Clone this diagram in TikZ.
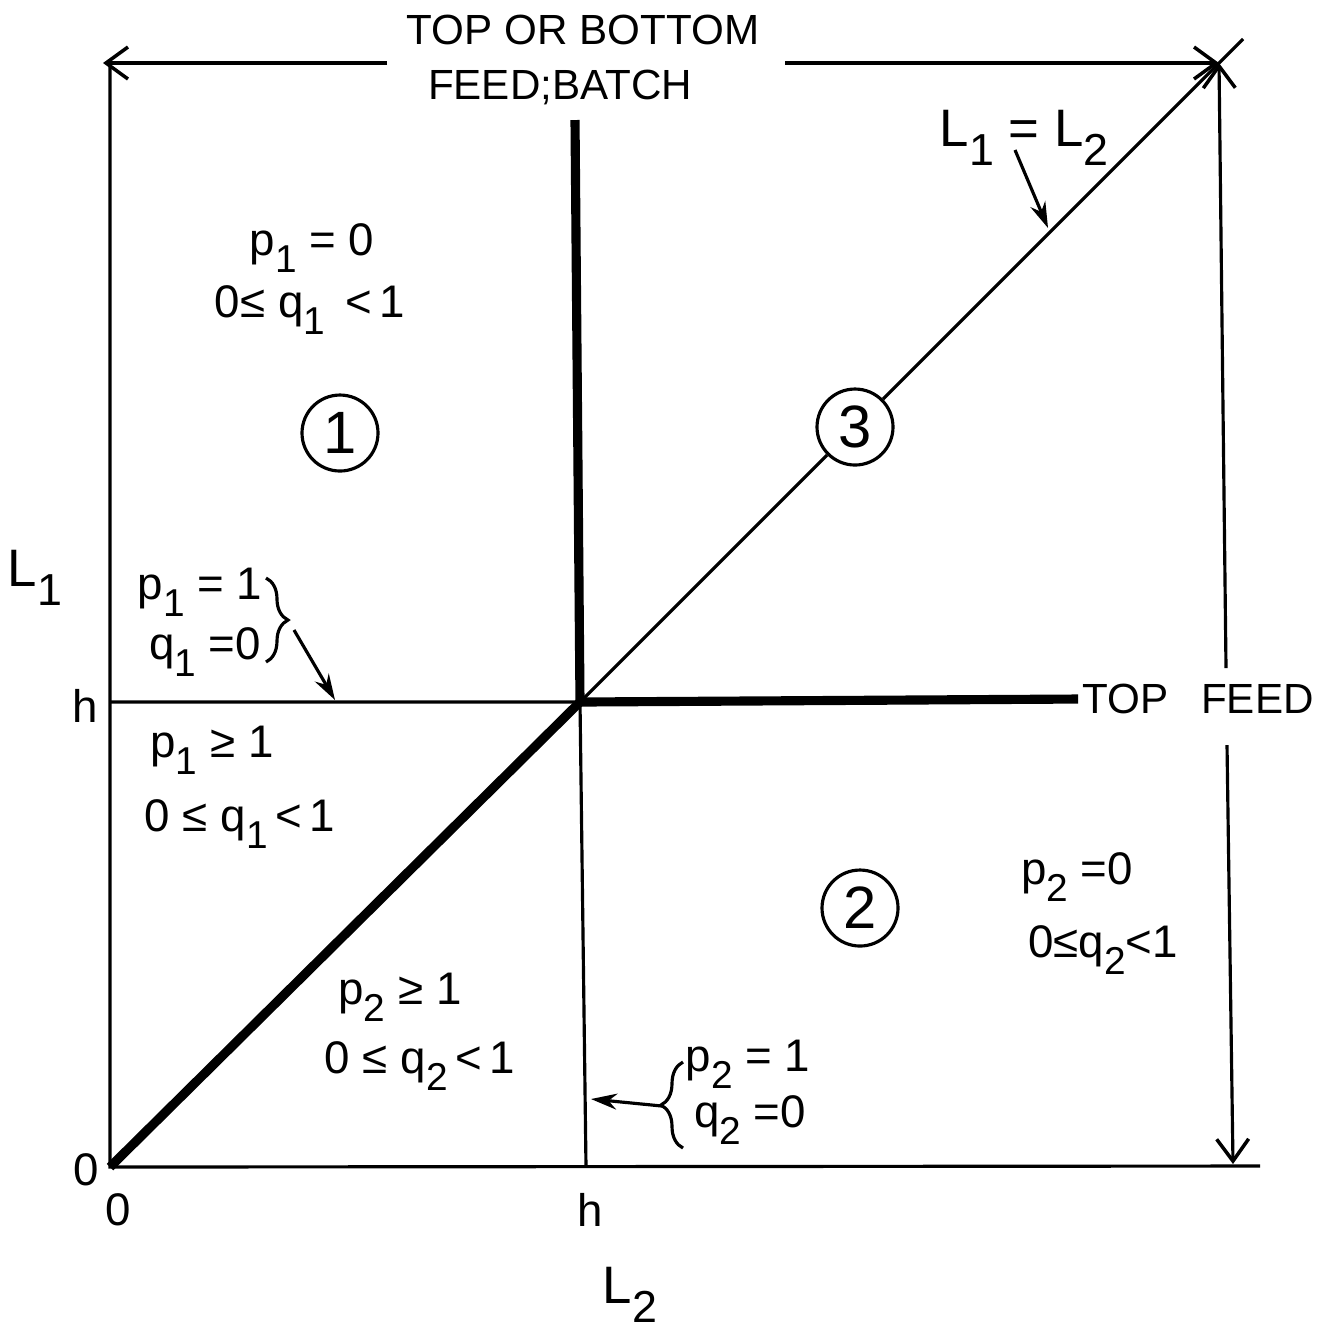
\documentclass[tikz,border=0pt]{standalone}
\usepackage{fontspec}
\setmainfont{Liberation Sans}
\usetikzlibrary{arrows.meta, decorations.pathreplacing}

\newcommand{\lw}[1]{\raisebox{-0.7ex}{\scalebox{0.85}{#1}}}

\begin{document}
\begin{tikzpicture}[x=0.1mm, y=-0.1mm,
    axis/.style={line width=0.9pt},
    bold/.style={line width=2.6pt},
    txt/.style={font=\fontsize{13}{15}\selectfont, inner sep=1pt},
    caps/.style={font=\fontsize{12}{14}\selectfont, inner sep=1pt},
    big/.style={font=\fontsize{15}{17}\selectfont, inner sep=1pt},
    region/.style={circle, draw, line width=0.9pt, minimum size=7.6mm, inner sep=0pt, font=\fontsize{17}{19}\selectfont},
    span/.style={-{Straight Barb[length=2.2mm, width=3.2mm, line width=1pt]}, line width=0.9pt},
    ptr/.style={-{Stealth[length=2.6mm, width=1.6mm]}, line width=0.9pt},
    curly/.style={decorate, decoration={brace, amplitude=2.2mm}, line width=0.9pt}]
    \useasboundingbox (0,0) rectangle (1330,1328);

    % corners and crossings
    \coordinate (O) at (110,1167);
    \coordinate (c) at (580,702);
    \coordinate (hl) at (110,702);
    \coordinate (hb) at (586,1167);
    \coordinate (xend) at (1260,1166);
    \coordinate (ytop) at (110,64);
    \coordinate (dend) at (1243,39);
    \coordinate (tr) at (1219,63);
    \coordinate (vtop) at (575,120);

    % axes and boundaries
    \draw[axis] (ytop) -- (O) -- (xend);
    \draw[axis] (hl) -- (c) -- (hb);
    \draw[bold] (O) -- (c);
    \draw[bold] (vtop) -- (c);

    % region labels
    \node[region] (one) at (340,433) {1};
    \node[region] (two) at (860,908) {2};
    \node[region] (three) at (855,427) {3};

    \draw[axis] (c) -- (three);
    \draw[axis] (three) -- (dend);

    \node[caps] (topfeed) at (1198,699) {TOP\hspace{0.5em} FEED};
    \draw[bold] (c) -- (topfeed.west);

    % span arrows
    \node[caps] (title) at (583,30) {TOP OR BOTTOM};
    \node[caps] (batch) at (560,87) {FEED;BATCH};
    \coordinate (topL) at (103,63);
    \coordinate (topLs) at (387,63);
    \coordinate (topRs) at (785,63);
    \draw[span] (topLs) -- (topL);
    \draw[span] (topRs) -- (tr);
    \coordinate (rA) at (1226,668);
    \coordinate (rB) at (1227,745);
    \coordinate (rbot) at (1233,1164);
    \draw[span] (rA) -- (tr);
    \draw[span] (rB) -- (rbot);

    % axis labels
    \node[big] (l1) at (35,578) {L\lw{1}};
    \node[big] (l2) at (630,1295) {L\lw{2}};
    \node[txt] (hleft) at (85,706) {h};
    \node[txt] (hbot) at (590,1210) {h};
    \node[txt] (oleft) at (86,1170) {0};
    \node[txt] (obot) at (118,1210) {0};

    % diagonal label
    \node[big] (diag) at (1024,138) {L\lw{1} = L\lw{2}};
    \coordinate (diagtail) at (1015,150);
    \coordinate (diagtip) at (1048,228);
    \draw[ptr] (diagtail) -- (diagtip);

    % region 1
    \node[txt] (p1a) at (312,248) {p\lw{1} = 0};
    \node[txt] (q1a) at (310,310) {0≤ q\lw{1} \,<\,1};

    % line h, L1 side
    \node[txt] (p1b) at (200,592) {p\lw{1} = 1};
    \node[txt] (q1b) at (205,652) {q\lw{1} =0};
    \draw[curly] (266,578) -- (266,662);
    \coordinate (bracetip1) at (294,630);
    \coordinate (hmark1) at (335,700);
    \draw[ptr] (bracetip1) -- (hmark1);

    % below h
    \node[txt] (p1c) at (212,750) {p\lw{1} ≥ 1};
    \node[txt] (q1c) at (240,824) {0 ≤ q\lw{1}\,<\,1};
    \node[txt] (p2c) at (400,997) {p\lw{2} ≥ 1};
    \node[txt] (q2c) at (420,1066) {0 ≤ q\lw{2}\,<\,1};

    % region 2
    \node[txt] (p2a) at (1077,877) {p\lw{2} =0};
    \node[txt] (q2a) at (1103,950) {0≤q\lw{2}<1};

    % line h, L2 side
    \node[txt, inner sep=0pt] (p2b) at (748,1064) {p\lw{2} = 1};
    \node[txt, inner sep=0pt] (q2b) at (750,1120) {q\lw{2} =0};
    \draw[curly] (683,1148) -- (683,1062);
    \coordinate (bracetip2) at (662,1106);
    \coordinate (hmark2) at (591,1099);
    \draw[ptr] (bracetip2) -- (hmark2);
\end{tikzpicture}
\end{document}
